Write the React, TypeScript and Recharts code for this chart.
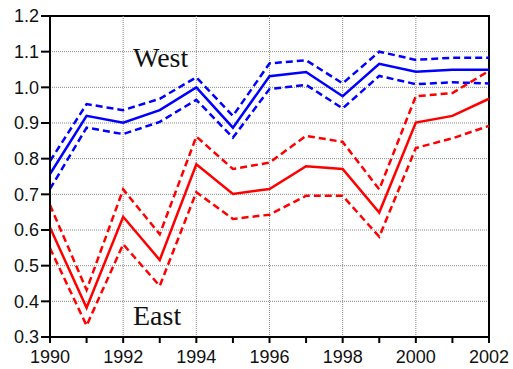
import { LineChart, Line, XAxis, YAxis, CartesianGrid, ReferenceLine, ReferenceArea } from "recharts";

const years = [1990, 1991, 1992, 1993, 1994, 1995, 1996, 1997, 1998, 1999, 2000, 2001, 2002];
const westMid = [0.757, 0.92, 0.901, 0.936, 1.0, 0.887, 1.031, 1.043, 0.975, 1.066, 1.044, 1.049, 1.049];
const westHi = [0.793, 0.953, 0.936, 0.968, 1.028, 0.92, 1.067, 1.076, 1.011, 1.1, 1.077, 1.083, 1.083];
const westLo = [0.715, 0.887, 0.869, 0.903, 0.965, 0.859, 0.995, 1.007, 0.941, 1.032, 1.009, 1.014, 1.011];
const eastMid = [0.607, 0.382, 0.637, 0.516, 0.784, 0.701, 0.715, 0.779, 0.771, 0.649, 0.901, 0.92, 0.968];
const eastHi = [0.67, 0.432, 0.714, 0.588, 0.862, 0.771, 0.789, 0.864, 0.847, 0.714, 0.975, 0.984, 1.046];
const eastLo = [0.549, 0.332, 0.56, 0.443, 0.706, 0.631, 0.643, 0.696, 0.696, 0.581, 0.83, 0.857, 0.892];
const yTicks = [0.3, 0.4, 0.5, 0.6, 0.7, 0.8, 0.9, 1.0, 1.1, 1.2];
const gridYears = [1992, 1994, 1996, 1998, 2000];

const datos = years.map((y, i) => ({
  year: y,
  westMid: westMid[i], westHi: westHi[i], westLo: westLo[i],
  eastMid: eastMid[i], eastHi: eastHi[i], eastLo: eastLo[i],
}));

const tickStyle = { fontFamily: "Liberation Sans, Arial, sans-serif", fontSize: 18, fill: "#111" };
const serif = { position: "absolute" as const, fontFamily: "Liberation Serif, Times New Roman, serif", fontSize: 28, color: "#111", lineHeight: 1 };

export default function App() {
  return (
    <div style={{ position: "absolute", left: 0, top: 0, width: 513, height: 369, background: "#fff" }}>
      <LineChart width={513} height={369} data={datos} margin={{ top: 16, right: 24, bottom: 0, left: 0 }}>
        <CartesianGrid vertical={false} stroke="#8a8a8a" strokeDasharray="1 1" />
        {gridYears.map((g) => (
          <ReferenceLine key={g} x={g} stroke="#8a8a8a" strokeDasharray="1 1" />
        ))}
        <XAxis dataKey="year" type="number" domain={[1990, 2002]} ticks={years} interval={0}
          tickFormatter={(v) => (v % 2 === 0 ? String(v) : "")}
          height={32} tickSize={6} tickMargin={7} stroke="#000" strokeWidth={2} tick={tickStyle} />
        <YAxis type="number" domain={[0.3, 1.2]} ticks={yTicks} tickFormatter={(v) => Number(v).toFixed(1)}
          width={50} tickSize={9} tickMargin={2} stroke="#000" strokeWidth={2} tick={tickStyle} />
        <ReferenceArea x1={1990} x2={2002} y1={0.3} y2={1.2} fill="none" stroke="#000" strokeWidth={2} />
        <Line dataKey="westHi" stroke="#0000ff" strokeWidth={2.5} strokeDasharray="7 4" dot={false} isAnimationActive={false} />
        <Line dataKey="westLo" stroke="#0000ff" strokeWidth={2.5} strokeDasharray="7 4" dot={false} isAnimationActive={false} />
        <Line dataKey="westMid" stroke="#0000ff" strokeWidth={2.5} dot={false} isAnimationActive={false} />
        <Line dataKey="eastHi" stroke="#ff0000" strokeWidth={2.5} strokeDasharray="7 4" dot={false} isAnimationActive={false} />
        <Line dataKey="eastLo" stroke="#ff0000" strokeWidth={2.5} strokeDasharray="7 4" dot={false} isAnimationActive={false} />
        <Line dataKey="eastMid" stroke="#ff0000" strokeWidth={2.5} dot={false} isAnimationActive={false} />
      </LineChart>
      <div style={{ ...serif, left: 133, top: 44 }}>West</div>
      <div style={{ ...serif, left: 133, top: 302 }}>East</div>
    </div>
  );
}
